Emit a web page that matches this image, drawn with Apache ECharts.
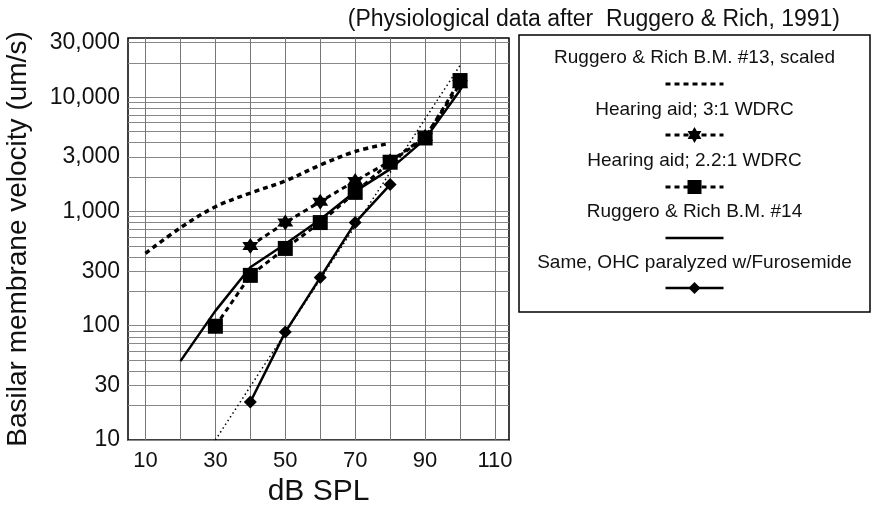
<!DOCTYPE html>
<html>
<head>
<meta charset="utf-8">
<script src="https://cdn.jsdelivr.net/npm/echarts@6/dist/echarts.min.js"></script>
<style>
html,body{margin:0;padding:0;background:#fff;}
#chart{width:872px;height:505px;}
</style>
</head>
<body>
<div id="chart"></div>
<script>
// ---- data ----
const seriesNames = [
  'Ruggero & Rich B.M. #13, scaled',
  'Hearing aid; 3:1 WDRC',
  'Hearing aid; 2.2:1 WDRC',
  'Ruggero & Rich B.M. #14',
  'Same, OHC paralyzed w/Furosemide'
];
const bm13Db  = [10, 20, 30, 40, 50, 60, 70, 79];
const bm13Vel = [430, 720, 1100, 1450, 1850, 2550, 3350, 3900];
const wdrc3Db  = [40, 50, 60, 70, 80, 90, 100];
const wdrc3Vel = [500, 800, 1220, 1850, 2750, 4500, 13000];
const wdrc22Db  = [30, 40, 50, 60, 70, 80, 90, 100];
const wdrc22Vel = [99, 276, 475, 800, 1470, 2700, 4400, 14000];
const bm14Db  = [20, 30, 40, 50, 60, 70, 80, 90, 100];
const bm14Vel = [49, 135, 325, 520, 850, 1500, 2350, 4300, 11500];
const furoDb  = [40, 50, 60, 70, 80];
const furoVel = [21.5, 88, 264, 800, 1720];
const linearDb  = [30, 100];
const linearVel = [10, 19000];

const xLabelValues = [10, 30, 50, 70, 90, 110];
const xGridValues  = [10, 20, 30, 40, 50, 60, 70, 80, 90, 100, 110];
const yLabelValues = [10, 30, 100, 300, 1000, 3000, 10000, 30000];
const yGridMantissas = [1, 2, 3, 4, 5, 6, 7, 8, 9];
const yGridDecades = [10, 100, 1000, 10000];

const titleText = '(Physiological data after  Ruggero & Rich, 1991)';
const xName = 'dB SPL';
const yName = 'Basilar membrane velocity (um/s)';

// ---- build ----
const zip = (xs, ys) => xs.map((x, i) => [x, ys[i]]);
const yGridValues = [];
yGridDecades.forEach(d => yGridMantissas.forEach(m => { if (d * m <= 30000) yGridValues.push(d * m); }));

const STAR = 'path://M50 0L64.43 25L93.3 25L78.87 50L93.3 75L64.43 75L50 100L35.57 75L6.7 75L21.13 50L6.7 25L35.57 25Z';
const FONT = 'Liberation Sans, Arial, sans-serif';
const DASH = [5, 4];

const chart = echarts.init(document.getElementById('chart'), null, {renderer: 'canvas'});

// legend graphics
const legX = 519, legY = 35, legW = 351, legH = 277;
const legCx = legX + legW / 2;
const textYs = [58, 110, 161, 212, 263];
const sampleYs = [84, 135, 187, 238, 288];
const sampleStyles = [
  {dash: DASH, sym: null},
  {dash: DASH, sym: 'star'},
  {dash: DASH, sym: 'rect'},
  {dash: null, sym: null},
  {dash: null, sym: 'diamond'}
];
const graphics = [{
  type: 'rect', shape: {x: legX, y: legY, width: legW, height: legH},
  style: {fill: '#fff', stroke: '#000', lineWidth: 1.5}, z: 1
}];
seriesNames.forEach((nm, i) => {
  graphics.push({
    type: 'text', x: legCx, y: textYs[i], z: 2,
    style: {text: nm, font: '19px ' + FONT, fill: '#111', align: 'center', verticalAlign: 'middle'}
  });
  const st = sampleStyles[i];
  graphics.push({
    type: 'line', z: 2,
    shape: {x1: legCx - 29, y1: sampleYs[i], x2: legCx + 29, y2: sampleYs[i]},
    style: {stroke: '#000', lineWidth: st.dash ? 3 : 2.5, lineDash: st.dash || null}
  });
  if (st.sym === 'rect') {
    graphics.push({type: 'rect', z: 3, shape: {x: legCx - 7, y: sampleYs[i] - 7, width: 14, height: 14}, style: {fill: '#000'}});
  } else if (st.sym === 'diamond') {
    graphics.push({type: 'polygon', z: 3, shape: {points: [[legCx, sampleYs[i] - 6], [legCx + 6, sampleYs[i]], [legCx, sampleYs[i] + 6], [legCx - 6, sampleYs[i]]]}, style: {fill: '#000'}});
  } else if (st.sym === 'star') {
    const pts = [];
    for (let k = 0; k < 12; k++) {
      const a = (-90 + k * 30) * Math.PI / 180;
      const r = k % 2 === 0 ? 8 : 4.6;
      pts.push([legCx + r * Math.cos(a), sampleYs[i] + r * Math.sin(a)]);
    }
    graphics.push({type: 'polygon', z: 3, shape: {points: pts}, style: {fill: '#000'}});
  }
});

const option = {
  backgroundColor: '#fff',
  animation: false,
  title: {
    text: titleText, right: 27, top: 3,
    textStyle: {fontFamily: FONT, fontSize: 23, fontWeight: 'normal', color: '#111'}
  },
  grid: {left: 128, right: 363, top: 38, bottom: 65, outerBoundsMode: 'none', containLabel: false,
    show: true, borderColor: '#000', borderWidth: 1.5, backgroundColor: 'transparent'},
  xAxis: {
    type: 'value', min: 5, max: 114,
    name: xName, nameLocation: 'middle', nameGap: 36,
    nameTextStyle: {fontFamily: FONT, fontSize: 30, color: '#111'},
    axisLine: {show: false},
    axisTick: {show: false, customValues: xGridValues},
    axisLabel: {customValues: xLabelValues, fontFamily: FONT, fontSize: 22, color: '#111', margin: 10},
    splitLine: {show: true, lineStyle: {color: '#777', width: 1}}
  },
  yAxis: {
    type: 'log', logBase: 10, min: 10, max: 33000,
    name: yName, nameLocation: 'middle', nameGap: 96, nameRotate: 90,
    nameTextStyle: {fontFamily: FONT, fontSize: 28, color: '#111'},
    axisLine: {show: false},
    axisTick: {show: false, customValues: yGridValues},
    axisLabel: {
      customValues: yLabelValues, fontFamily: FONT, fontSize: 23, color: '#111', margin: 8,
      formatter: v => Number(v).toLocaleString('en-US')
    },
    splitLine: {show: true, lineStyle: {color: '#888', width: 1}}
  },
  graphic: graphics,
  series: [
    {
      name: seriesNames[0], type: 'line', data: zip(bm13Db, bm13Vel), smooth: 0.35,
      symbol: 'none', lineStyle: {color: '#000', width: 3.5, type: DASH}, z: 3
    },
    {
      name: seriesNames[1], type: 'line', data: zip(wdrc3Db, wdrc3Vel),
      symbol: STAR, symbolSize: 16, itemStyle: {color: '#000'},
      lineStyle: {color: '#000', width: 3, type: DASH}, z: 4
    },
    {
      name: seriesNames[2], type: 'line', data: zip(wdrc22Db, wdrc22Vel),
      symbol: 'rect', symbolSize: 15, itemStyle: {color: '#000'},
      lineStyle: {color: '#000', width: 3, type: DASH}, z: 5
    },
    {
      name: seriesNames[3], type: 'line', data: zip(bm14Db, bm14Vel),
      symbol: 'none', lineStyle: {color: '#000', width: 2.5, type: 'solid'}, z: 4
    },
    {
      name: seriesNames[4], type: 'line', data: zip(furoDb, furoVel),
      symbol: 'diamond', symbolSize: 13, itemStyle: {color: '#000'},
      lineStyle: {color: '#000', width: 2.5, type: 'solid'}, z: 5
    },
    {
      name: 'linear', type: 'line', data: zip(linearDb, linearVel),
      symbol: 'none', lineStyle: {color: '#000', width: 1.5, type: [1.5, 3]}, z: 3
    }
  ]
};
chart.setOption(option);
</script>
</body>
</html>
